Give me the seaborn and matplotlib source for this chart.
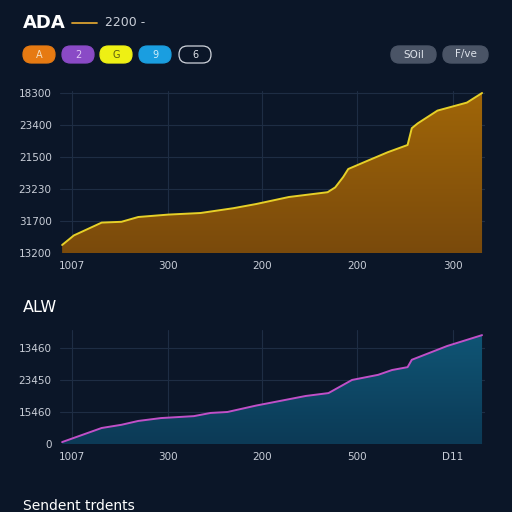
import numpy as np
import pandas as pd
import matplotlib
matplotlib.use("Agg")
import matplotlib.pyplot as plt
import seaborn as sns
from matplotlib.patches import FancyBboxPatch

# valeurs (x en % de la largeur de l'axe)
top_x = [0, 2.8, 9.4, 14.1, 18.1, 25.2, 32.9, 40.7, 46.1, 53.9, 63.1, 64.9, 66.8,
         68.0, 72.0, 77.4, 82.1, 83.1, 84.5, 89.2, 96.2, 99.8]
top_y = [5, 11, 19, 19.5, 22.5, 24, 25, 28, 30.6, 35, 38, 41, 47.5,
         52.5, 57, 63, 67.5, 78, 81, 89, 94, 100]
top_yticklabels = ["13200", "31700", "23230", "21500", "23400", "18300"]
top_xticklabels = ["1007", "300", "200", "200", "300"]

bot_x = [0, 9.4, 14.1, 18.1, 23.5, 31.3, 35.3, 39.3, 46.1, 57.9, 63.3, 68.9,
         75.1, 78.4, 82.1, 83.1, 91.5, 99.8]
bot_y = [0.06, 0.5, 0.6, 0.72, 0.81, 0.87, 0.97, 1.0, 1.2, 1.5, 1.59, 2.0,
         2.16, 2.31, 2.4, 2.63, 3.06, 3.4]
bot_yticklabels = ["0", "15460", "23450", "13460"]
bot_xticklabels = ["1007", "300", "200", "500", "D11"]

xtick_pos = [2.35, 25.2, 47.5, 70.1, 92.9]

pills = ["A", "2", "G", "9", "6"]
pill_colors = ["#e67a12", "#8a4ac6", "#eef014", "#1a9ee0", None]
pill_text_colors = ["#f5e0c0", "#e0c8f5", "#5a5a10", "#d0eefa", "#e0e4ea"]

BG = "#0b1628"
GRID = "#1e2d44"
TXT = "#c9ced8"

sns.set_style("dark")
plt.rcParams["font.family"] = ["DejaVu Sans"]

fig = plt.figure(figsize=(5.12, 5.12), dpi=100, facecolor=BG)


def gradient_area(ax, x, y, c_top, c_bot, line_color, ymax):
    df = pd.DataFrame({"x": x, "y": y})
    poly = ax.fill_between(df["x"], df["y"], 0, color="none", lw=0)
    grad = np.linspace(1, 0, 256).reshape(-1, 1)
    cmap = matplotlib.colors.LinearSegmentedColormap.from_list("g", [c_bot, c_top])
    im = ax.imshow(grad, cmap=cmap, aspect="auto", extent=[0, 100, 0, ymax],
                   origin="upper", zorder=2)
    path = poly.get_paths()[0]
    im.set_clip_path(path, transform=ax.transData)
    sns.lineplot(data=df, x="x", y="y", ax=ax, color=line_color, lw=1.4, zorder=3)


def style_axis(ax, ylim, yticks, ylabels, xlabels):
    ax.set_facecolor(BG)
    ax.set_xlim(-0.5, 100.5)
    ax.set_ylim(0, ylim)
    ax.set_yticks(yticks)
    ax.set_yticklabels(ylabels)
    ax.set_xticks(xtick_pos)
    ax.set_xticklabels(xlabels)
    ax.tick_params(colors=TXT, labelsize=7.5, length=0, pad=6)
    ax.grid(True, color=GRID, lw=0.8)
    ax.set_axisbelow(True)
    for s in ax.spines.values():
        s.set_visible(False)
    ax.set_xlabel("")
    ax.set_ylabel("")


ax1 = fig.add_axes([60 / 512, 1 - 253 / 512, 425 / 512, 162 / 512])
gradient_area(ax1, top_x, top_y, "#a06608", "#7a4a0c", "#e6d028", 101.25)
style_axis(ax1, 101.25, [0, 20, 40, 60, 80, 100], top_yticklabels, top_xticklabels)

ax2 = fig.add_axes([60 / 512, 1 - 444 / 512, 425 / 512, 114 / 512])
gradient_area(ax2, bot_x, bot_y, "#0f5676", "#0c3a56", "#c050c8", 3.56)
style_axis(ax2, 3.56, [0, 1, 2, 3], bot_yticklabels, bot_xticklabels)

# titres et légende
fig.text(23 / 512, 1 - 23 / 512, "ADA", color="white", fontsize=13,
         fontweight="bold", va="center")
fig.add_artist(plt.Line2D([72 / 512, 97 / 512], [1 - 23 / 512, 1 - 23 / 512],
                          color="#d8a030", lw=1.3))
fig.text(105 / 512, 1 - 23 / 512, "2200 -", color=TXT, fontsize=9, va="center")

pill_x = [23, 62, 100, 139, 179]
for px, lab, fc, tc in zip(pill_x, pills, pill_colors, pill_text_colors):
    box = FancyBboxPatch((px / 512, 1 - 63 / 512), 32 / 512, 17 / 512,
                         boxstyle="round,pad=0,rounding_size=0.0165",
                         transform=fig.transFigure,
                         facecolor=fc if fc else BG,
                         edgecolor=fc if fc else "#d0d4dc", lw=0.9)
    fig.add_artist(box)
    fig.text((px + 16) / 512, 1 - 54.5 / 512, lab, color=tc, fontsize=7,
             ha="center", va="center")

for px, w, lab in [(391, 45, "SOil"), (443, 45, "F/ve")]:
    box = FancyBboxPatch((px / 512, 1 - 63 / 512), w / 512, 17 / 512,
                         boxstyle="round,pad=0,rounding_size=0.0165",
                         transform=fig.transFigure, facecolor="#4a5466",
                         edgecolor="#4a5466")
    fig.add_artist(box)
    fig.text((px + w / 2) / 512, 1 - 54.5 / 512, lab, color="#dde2ea",
             fontsize=7.5, ha="center", va="center")

fig.text(23 / 512, 1 - 308 / 512, "ALW", color="white", fontsize=11.5, va="center")
fig.text(23 / 512, 1 - 506 / 512, "Sendent trdents", color="white", fontsize=10,
         va="center")

fig.savefig("out.png", dpi=100, facecolor=BG)
